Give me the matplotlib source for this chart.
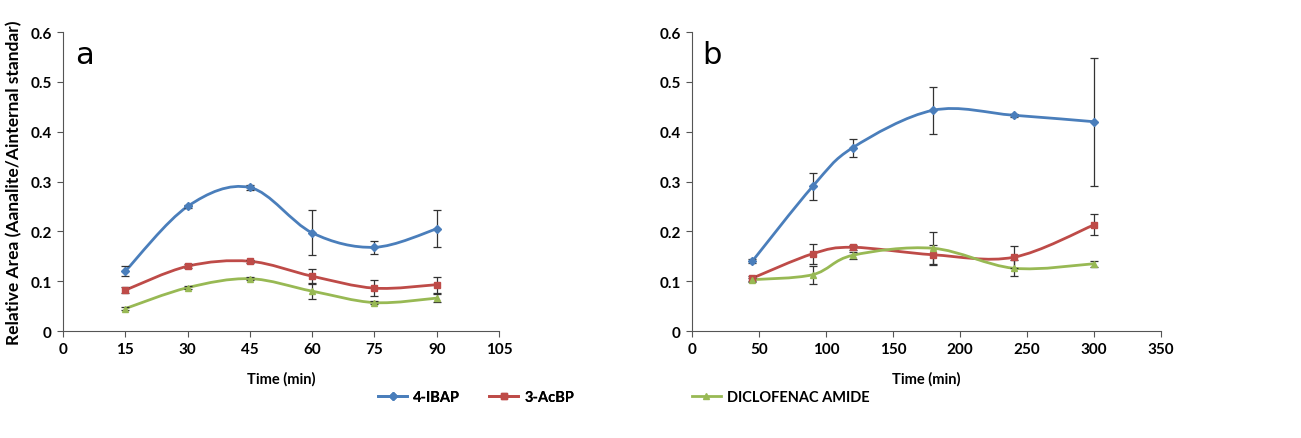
import numpy as np
import matplotlib
matplotlib.use("Agg")
import matplotlib.pyplot as plt
from matplotlib.path import Path
from matplotlib.patches import PathPatch
from matplotlib.lines import Line2D

plt.rcParams['font.family'] = ['Lato', 'DejaVu Sans']

# panel a
time_a = [15, 30, 45, 60, 75, 90]
ibap_a = [0.120, 0.250, 0.288, 0.197, 0.168, 0.205]
ibap_a_err = [0.010, 0.003, 0.005, 0.045, 0.013, 0.037]
acbp_a = [0.082, 0.130, 0.140, 0.110, 0.086, 0.093]
acbp_a_err = [0.006, 0.004, 0.003, 0.015, 0.016, 0.016]
dicl_a = [0.045, 0.087, 0.105, 0.080, 0.057, 0.066]
dicl_a_err = [0.003, 0.003, 0.003, 0.016, 0.003, 0.008]

# panel b
time_b = [45, 90, 120, 180, 240, 300]
ibap_b = [0.140, 0.290, 0.368, 0.443, 0.433, 0.420]
ibap_b_err = [0.004, 0.028, 0.018, 0.047, 0.003, 0.128]
acbp_b = [0.106, 0.155, 0.168, 0.153, 0.148, 0.213]
acbp_b_err = [0.005, 0.020, 0.005, 0.020, 0.022, 0.021]
dicl_b = [0.103, 0.113, 0.152, 0.166, 0.126, 0.135]
dicl_b_err = [0.004, 0.018, 0.007, 0.032, 0.016, 0.006]

names = ["4-IBAP", "3-AcBP", "DICLOFENAC AMIDE"]
colors = ["#4A7EBB", "#BE4B48", "#98B954"]
markers = ["D", "s", "^"]
msizes = [4, 5, 5]


def smooth_path(x, y):
    # Excel-style smoothed line as cubic Bezier segments
    p = np.column_stack([x, y]).astype(float)
    n = len(p)
    verts = [p[0]]
    codes = [Path.MOVETO]
    for i in range(n - 1):
        p0 = p[i - 1] if i > 0 else p[i]
        p3 = p[i + 2] if i + 2 < n else p[i + 1]
        c1 = p[i] + (p[i + 1] - p0) / 6.0
        c2 = p[i + 1] - (p3 - p[i]) / 6.0
        verts += [c1, c2, p[i + 1]]
        codes += [Path.CURVE4] * 3
    return Path(verts, codes)


def draw_panel(ax, t, series, errs, xmax, xstep, letter, lx):
    for k, (yv, ev) in enumerate(zip(series, errs)):
        ax.add_patch(PathPatch(smooth_path(t, yv), fill=False,
                               edgecolor=colors[k], lw=2, zorder=2))
        ax.errorbar(t, yv, yerr=ev, fmt="none", ecolor="#333333",
                    elinewidth=0.9, capsize=3, capthick=0.9, zorder=3)
        ax.plot(t, yv, ls="none", marker=markers[k], ms=msizes[k],
                color=colors[k], zorder=4)
    ax.set_xlim(0, xmax)
    ax.set_ylim(0, 0.6)
    ax.set_xticks(np.arange(0, xmax + 1, xstep))
    ax.set_yticks(np.arange(0, 0.61, 0.1))
    ax.set_yticklabels(["0", "0.1", "0.2", "0.3", "0.4", "0.5", "0.6"])
    ax.spines["top"].set_visible(False)
    ax.spines["right"].set_visible(False)
    for s in ("left", "bottom"):
        ax.spines[s].set_color("#555555")
    ax.tick_params(direction="out", length=4, color="#555555",
                   labelsize=11, pad=4)
    for lab in ax.get_xticklabels() + ax.get_yticklabels():
        lab.set_fontweight("bold")
    ax.set_xlabel("Time (min)", fontsize=10.5, fontweight="bold", labelpad=11)
    ax.text(lx, 0.925, letter, transform=ax.transAxes, fontsize=22,
            family="DejaVu Sans", va="center")


fig = plt.figure(figsize=(13.01, 4.39), dpi=100)
ax1 = fig.add_axes([0.0484, 0.2437, 0.3352, 0.6811])
ax2 = fig.add_axes([0.5319, 0.2437, 0.3605, 0.6811])

draw_panel(ax1, time_a, [ibap_a, acbp_a, dicl_a],
           [ibap_a_err, acbp_a_err, dicl_a_err], 105, 15, "a", 0.027)
draw_panel(ax2, time_b, [ibap_b, acbp_b, dicl_b],
           [ibap_b_err, acbp_b_err, dicl_b_err], 350, 50, "b", 0.022)
ax1.set_ylabel("Relative Area (Aanalite/Ainternal standar)", fontsize=12.5,
               fontweight="bold", labelpad=6)

handles = [Line2D([], [], color=colors[k], lw=2, marker=markers[k],
                  ms=msizes[k]) for k in range(3)]
leg1 = fig.legend(handles[:2], names[:2], loc="center",
                  bbox_to_anchor=(0.366, 0.093), ncol=2, frameon=False,
                  prop={"size": 10.5, "weight": "bold"}, handlelength=2.0,
                  columnspacing=2.0, handletextpad=0.4)
fig.add_artist(leg1)
fig.legend(handles[2:], names[2:], loc="center",
           bbox_to_anchor=(0.6, 0.093), frameon=False,
           prop={"size": 10.5, "weight": "bold"}, handlelength=2.0,
           handletextpad=0.4)

fig.savefig("out.png", dpi=100)
